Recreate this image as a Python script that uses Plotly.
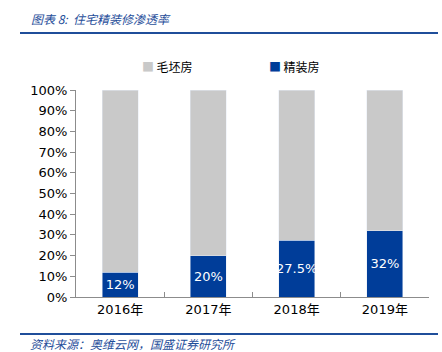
import plotly.graph_objects as go

years = ["2016年", "2017年", "2018年", "2019年"]
finished = [12, 20, 27.5, 32]
rough = [88, 80, 72.5, 68]
finished_labels = ["12%", "20%", "27.5%", "32%"]
yticks = [0, 10, 20, 30, 40, 50, 60, 70, 80, 90, 100]
ytick_labels = [f"{v}%" for v in yticks]

GRAY = "#C9C9C9"
BLUE = "#003D99"
AXIS = "#8C8C8C"
HEAD = "#1F4E9A"
FONT = "DejaVu Sans, Noto Sans CJK SC"

W, H = 442, 352
ML, MR, MT, MB = 76, 13, 90, 55
PW, PH = W - ML - MR, H - MT - MB


def px_x(x):
    return (x - ML) / PW


def px_y(y):
    return (H - MB - y) / PH


fig = go.Figure()
fig.add_trace(go.Bar(
    x=years, y=finished, name="精装房", marker_color=BLUE,
    text=finished_labels, textposition="inside", insidetextanchor="middle",
    textangle=0, constraintext="none",
    textfont=dict(color="white", size=13, family=FONT), width=0.41,
))
fig.add_trace(go.Bar(
    x=years, y=rough, name="毛坯房", marker_color=GRAY, width=0.41,
    hoverinfo="skip",
))

fig.update_layout(
    barmode="stack",
    width=W, height=H,
    margin=dict(l=ML, r=MR, t=MT, b=MB),
    paper_bgcolor="white", plot_bgcolor="white",
    font=dict(family=FONT, size=12, color="#000000"),
    showlegend=False,
    uniformtext=dict(minsize=8, mode="show"),
)
fig.update_xaxes(
    showline=True, linecolor=AXIS, linewidth=1,
    ticks="inside", tickson="boundaries", ticklen=5, tickcolor=AXIS,
    tickfont=dict(size=13, family=FONT), showgrid=False,
)
fig.update_yaxes(
    range=[0, 100], tickvals=yticks, ticktext=ytick_labels,
    showline=True, linecolor=AXIS, linewidth=1,
    ticks="outside", ticklen=5, tickcolor=AXIS, showgrid=False,
    tickfont=dict(size=13, family=FONT), zeroline=False,
)

# legend drawn as text keys
for name, color, xpx in [("毛坯房", GRAY, 140), ("精装房", BLUE, 267)]:
    fig.add_annotation(
        text=f"<span style='color:{color}'>■</span>\u2009{name}",
        xref="paper", yref="paper", x=px_x(xpx), y=px_y(67),
        xanchor="left", yanchor="middle", showarrow=False,
        font=dict(size=12, color="#000000", family="Noto Sans CJK SC"))

# header and footer
fig.add_annotation(text="<i>图表 8:  住宅精装修渗透率</i>", xref="paper", yref="paper",
                   x=px_x(29), y=px_y(18), xanchor="left", yanchor="middle",
                   showarrow=False,
                   font=dict(size=12, color=HEAD, family="Noto Sans CJK SC"))
fig.add_annotation(text="<i>资料来源：奥维云网，国盛证券研究所</i>", xref="paper", yref="paper",
                   x=px_x(29), y=px_y(343), xanchor="left", yanchor="middle",
                   showarrow=False, borderpad=0,
                   font=dict(size=12, color=HEAD, family="Noto Sans CJK SC"))
fig.add_shape(type="line", xref="paper", yref="paper", x0=px_x(20), x1=px_x(438),
              y0=px_y(33), y1=px_y(33), line=dict(color=HEAD, width=2))
fig.add_shape(type="line", xref="paper", yref="paper", x0=px_x(20), x1=px_x(438),
              y0=px_y(334), y1=px_y(334), line=dict(color=HEAD, width=2))

fig.write_html("out.html")
